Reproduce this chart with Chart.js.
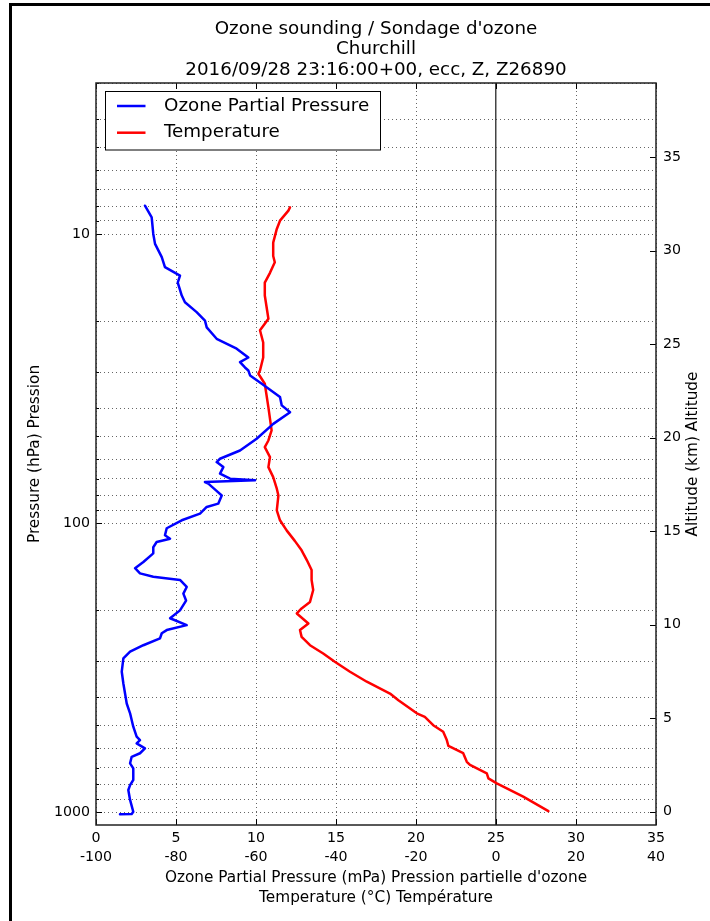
<!DOCTYPE html>
<html lang="en">
<head>
  <meta charset="UTF-8" />
  <title>Ozone sounding / Sondage d'ozone - Churchill</title>
  <script src="https://cdn.jsdelivr.net/npm/chart.js"></script>
  <style>
    html, body {
      margin: 0;
      background: #fff;
      overflow: hidden;
      font-family: 'DejaVu Sans', sans-serif;
    }
    .frame {
      position: absolute;
      left: 9px;
      top: 3px;
      width: 698px;
      height: 915px;
      border-left: 3px solid #000;
      border-top: 3px solid #000;
    }
    .chart-container {
      position: absolute;
      left: 0;
      top: 0;
      width: 710px;
      height: 921px;
    }
  </style>
</head>
<body>
  <div class="frame"></div>
  <div class="chart-container">
    <canvas id="sondeChart"></canvas>
  </div>

  <script>
    // Ozone profile: pressure (hPa) and ozone partial pressure (mPa), top to bottom
    const ozonePressure = [7.97, 8.75, 9.98, 10.8, 12.0, 13.0, 13.9, 14.7, 16.3, 17.2, 18.6, 19.9, 21.0, 23.0,
      24.9, 26.7, 27.7, 28.9, 29.6, 30.8, 32.9, 36.6, 39.1, 41.3, 45.3, 51.0, 56.0, 59.8, 61.4, 63.9, 67.3, 70.1,
      71.0, 72.0, 72.9, 76.9, 80.1, 85.5, 87.8, 92.6, 97.6, 104, 110, 113, 116, 121, 127, 136, 143, 149, 153, 157,
      166, 175, 185, 200, 213, 225, 234, 240, 250, 264, 278, 293, 326, 358, 420, 454, 505, 547, 562, 577, 600,
      624, 642, 676, 704, 772, 804, 836, 905, 994, 1012, 1014];
    const ozoneValues = [3.06, 3.48, 3.58, 3.69, 4.11, 4.31, 5.25, 5.11, 5.36, 5.56, 6.29, 6.81, 6.92, 7.54,
      8.79, 9.52, 9.0, 9.31, 9.52, 9.63, 10.36, 11.5, 11.61, 12.13, 11.08, 10.04, 9.0, 7.75, 7.54, 7.96, 7.75, 8.38,
      9.94, 6.81, 7.02, 7.5, 7.86, 7.64, 6.92, 6.5, 5.36, 4.42, 4.31, 4.63, 3.79, 3.58, 3.58, 2.96, 2.44, 2.75, 3.58, 5.25,
      5.67, 5.46, 5.63, 5.25, 4.63, 5.67, 4.42, 4.11, 4.0, 2.96, 2.13, 1.71, 1.61, 1.71, 1.92, 2.13, 2.33, 2.54, 2.75, 2.54, 3.06,
      2.75, 2.23, 2.13, 2.33, 2.33, 2.13, 2.02, 2.13, 2.33, 2.23, 1.5];

    // Temperature profile: pressure (hPa) and temperature (°C)
    const tempPressure = [8.08, 8.29, 8.98, 9.59, 10.7, 11.9, 12.5, 13.6, 14.7, 16.3, 19.6, 20.4, 21.5, 23.7,
      26.7, 29.6, 30.4, 32.9, 39.7, 47.7, 51.7, 54.5, 59.0, 63.9, 69.2, 75.9, 80.1, 90.2, 97.6, 106, 115, 124,
      134, 145, 157, 170, 187, 197, 205, 222, 234, 247, 264, 282, 301, 326, 353, 388, 409, 454, 467, 499, 526,
      562, 589, 624, 668, 685, 732, 762, 793, 882, 990];
    const tempValues = [-51.5, -51.9, -54.0, -54.8, -55.7, -55.7, -55.3, -56.5, -57.8, -57.8, -56.9, -57.8, -59.0, -58.2,
      -58.2, -59.0, -59.4, -57.8, -56.9, -56.1, -56.9, -57.8, -56.5, -56.9, -55.7, -54.8, -54.4, -54.8, -54.0, -52.3, -50.3, -48.6,
      -47.3, -46.1, -46.1, -45.7, -46.5, -48.6, -49.8, -46.9, -49.0, -48.6, -46.5, -43.2, -40.3, -36.5, -32.3, -26.5, -24.4, -19.8, -17.8, -15.7, -13.2,
      -12.3, -11.9, -8.2, -7.3, -6.5, -2.3, -1.9, 0.2, 6.8, 13.1];

    const pressureTickLabels = [10, 100, 1000];
    const titleLines = ['Ozone sounding / Sondage d\'ozone', 'Churchill', '2016/09/28 23:16:00+00, ecc, Z, Z26890'];

    // grid lines at every 1..9 x 10^n inside the pressure range
    const pressureGrid = [];
    [1, 10, 100, 1000].forEach(d => {
      for (let m = 1; m <= 9; m++) {
        const v = m * d;
        if (v >= 3 && v <= 1105) pressureGrid.push(v);
      }
    });

    const FONT = 'DejaVu Sans';
    const tickFont = { family: FONT, size: 14.2 };
    const dots = [1, 3];

    // title, legend box, right axis title, frame and inward tick marks
    const decorations = {
      id: 'decorations',
      afterDatasetsDraw(chart) {
        const { ctx, chartArea: a, scales } = chart;
        const line = (x1, y1, x2, y2) => { ctx.beginPath(); ctx.moveTo(x1, y1); ctx.lineTo(x2, y2); ctx.stroke(); };
        ctx.save();

        ctx.strokeStyle = '#000';
        ctx.lineWidth = 1;
        scales.xO3.ticks.forEach(t => {
          const x = Math.round(scales.xO3.getPixelForValue(t.value)) + 0.5;
          line(x, a.bottom, x, a.bottom - 6);
          line(x, a.top, x, a.top + 6);
        });
        scales.yP.ticks.forEach(t => {
          const y = Math.round(scales.yP.getPixelForValue(t.value)) + 0.5;
          const len = pressureTickLabels.includes(t.value) ? 6 : 3;
          line(a.left, y, a.left + len, y);
        });
        scales.yAlt.ticks.forEach(t => {
          const y = Math.round(scales.yAlt.getPixelForValue(t.value)) + 0.5;
          line(a.right - 6, y, a.right, y);
        });

        ctx.strokeStyle = '#222';
        ctx.lineWidth = 1.5;
        ctx.strokeRect(a.left, a.top, a.right - a.left, a.bottom - a.top);

        // legend
        const lx = a.left + 9.5, ly = a.top + 8.5;
        ctx.fillStyle = '#fff';
        ctx.fillRect(lx, ly, 275, 58.5);
        ctx.strokeStyle = '#000';
        ctx.lineWidth = 1;
        ctx.strokeRect(lx, ly, 275, 58.5);
        ctx.font = '18.3px "' + FONT + '"';
        ctx.textAlign = 'left';
        ctx.textBaseline = 'middle';
        chart.data.datasets.forEach((ds, i) => {
          const y = ly + 14.5 + i * 26.7;
          ctx.strokeStyle = ds.borderColor;
          ctx.lineWidth = 2.5;
          line(lx + 11.5, y, lx + 40, y);
          ctx.fillStyle = '#000';
          ctx.fillText(ds.label, lx + 58.5, y);
        });

        // title
        const cx = (a.left + a.right) / 2;
        ctx.textAlign = 'center';
        ctx.fillStyle = '#000';
        titleLines.forEach((t, i) => ctx.fillText(t, cx, 29 + i * 20.5));

        // right axis title
        ctx.font = '15.3px "' + FONT + '"';
        ctx.translate(693, (a.top + a.bottom) / 2);
        ctx.rotate(-Math.PI / 2);
        ctx.fillText('Altitude (km) Altitude', 0, 0);

        ctx.restore();
      }
    };

    new Chart(document.getElementById('sondeChart').getContext('2d'), {
      type: 'line',
      data: {
        datasets: [{
          label: 'Ozone Partial Pressure',
          data: ozonePressure.map((p, i) => ({ x: ozoneValues[i], y: p })),
          xAxisID: 'xO3',
          yAxisID: 'yP',
          borderColor: '#0000ff',
          borderWidth: 2.5,
          pointRadius: 0,
          borderJoinStyle: 'round',
          borderCapStyle: 'round'
        }, {
          label: 'Temperature',
          data: tempPressure.map((p, i) => ({ x: tempValues[i], y: p })),
          xAxisID: 'xT',
          yAxisID: 'yP',
          borderColor: '#ff0000',
          borderWidth: 2.5,
          pointRadius: 0,
          borderJoinStyle: 'round',
          borderCapStyle: 'round'
        }]
      },
      options: {
        indexAxis: 'y',
        responsive: true,
        maintainAspectRatio: false,
        animation: false,
        layout: { padding: { top: 83, left: 0, right: 0, bottom: 0 } },
        plugins: { legend: { display: false }, tooltip: { enabled: false }, title: { display: false } },
        scales: {
          yP: {
            type: 'logarithmic',
            position: 'left',
            reverse: true,
            min: 3,
            max: 1105,
            afterBuildTicks: s => { s.ticks = pressureGrid.map(v => ({ value: v })); },
            afterFit: s => { s.width = 96; },
            grid: { color: '#666', lineWidth: 1, drawTicks: false, borderDash: dots },
            border: { display: false, dash: dots },
            ticks: {
              autoSkip: false,
              padding: 6,
              color: '#000',
              font: tickFont,
              callback: v => pressureTickLabels.includes(v) ? String(v) : ''
            },
            title: {
              display: true,
              text: 'Pressure (hPa) Pression',
              color: '#000',
              font: { family: FONT, size: 15.3 },
              padding: { top: 26, bottom: 0 }
            }
          },
          yAlt: {
            type: 'linear',
            position: 'right',
            min: -0.71,
            max: 38.97,
            afterFit: s => { s.width = 54; },
            grid: { drawOnChartArea: false, drawTicks: false },
            border: { display: false },
            ticks: { stepSize: 5, includeBounds: false, padding: 7, color: '#000', font: tickFont }
          },
          xO3: {
            type: 'linear',
            position: 'bottom',
            weight: 0,
            min: 0,
            max: 35,
            afterFit: s => { s.height = 20; },
            grid: {
              color: c => (c.tick && c.tick.value === 25) ? 'rgba(0,0,0,0)' : '#666',
              drawTicks: false,
              borderDash: dots
            },
            border: { display: false, dash: dots },
            ticks: { stepSize: 5, padding: 5, maxRotation: 0, color: '#000', font: tickFont }
          },
          xT: {
            type: 'linear',
            position: 'bottom',
            weight: 1,
            min: -100,
            max: 40,
            afterFit: s => { s.height = 76; },
            grid: {
              color: c => (c.tick && c.tick.value === 0) ? '#444' : 'rgba(0,0,0,0)',
              lineWidth: 1.5,
              drawTicks: false
            },
            border: { display: false },
            ticks: { stepSize: 20, padding: 4, maxRotation: 0, color: '#000', font: tickFont },
            title: {
              display: true,
              text: ['Ozone Partial Pressure (mPa) Pression partielle d\'ozone', 'Temperature (°C) Température'],
              color: '#000',
              font: { family: FONT, size: 15.3, lineHeight: 1.3 },
              padding: { top: 0, bottom: 13 }
            }
          }
        }
      },
      plugins: [decorations]
    });
  </script>
</body>
</html>
